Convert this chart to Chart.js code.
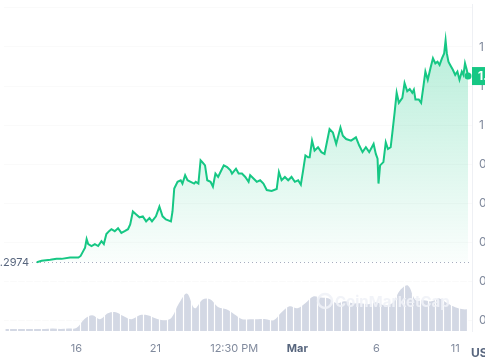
<!DOCTYPE html>
<html><head><meta charset="utf-8">
<script src="https://cdn.jsdelivr.net/npm/chart.js@4.4.1/dist/chart.umd.min.js"></script>
<style>
html,body{margin:0;padding:0;overflow:hidden;background:#fff;width:485px;height:360px}
#wrap{position:absolute;left:0;top:0;width:520px;height:360px}
</style>
</head><body>
<div id="wrap"><canvas id="c" width="520" height="360"></canvas></div>
<script>
// x values: day of month counted from Feb 1 (Mar 1 = day 30, 2024 leap year)
const priceDays = [
13.49,13.80,14.35,14.74,15.06,15.60,16.13,16.27,16.55,16.65,
16.75,16.96,17.17,17.38,17.59,17.74,17.90,18.07,18.22,18.43,
18.64,18.85,19.06,19.27,19.41,19.58,19.79,20.00,20.21,20.42,
20.63,20.79,21.04,21.26,21.46,21.67,21.99,22.09,22.20,22.41,
22.61,22.72,22.89,23.04,23.24,23.46,23.56,23.73,23.87,23.98,
24.15,24.29,24.50,24.65,24.81,24.98,25.13,25.34,25.55,25.76,
25.86,26.11,26.28,26.49,26.70,26.91,27.01,27.22,27.43,27.64,
27.85,28.06,28.37,28.69,28.83,29.00,29.21,29.42,29.63,29.84,
30.05,30.22,30.37,30.51,30.68,30.78,30.93,31.09,31.31,31.52,
31.72,32.04,32.25,32.46,32.73,32.88,33.09,33.40,33.71,33.92,
34.13,34.34,34.55,34.83,34.97,35.08,35.14,35.24,35.45,35.60,
35.74,35.91,36.02,36.16,36.29,36.43,36.65,36.79,36.96,37.12,
37.28,37.38,37.48,37.69,37.84,38.00,38.11,38.26,38.43,38.59,
38.74,38.88,39.01,39.16,39.30,39.39,39.47,39.57,39.68,39.85,
40.00,40.14,40.27,40.42,40.52,40.62,40.73,40.81
];
const prices = [
0.297,0.304,0.309,0.315,0.314,0.321,0.321,0.329,0.371,0.415,
0.390,0.380,0.390,0.380,0.405,0.390,0.441,0.456,0.466,0.456,
0.471,0.447,0.456,0.466,0.491,0.557,0.542,0.527,0.532,0.506,
0.523,0.506,0.532,0.582,0.532,0.516,0.506,0.557,0.675,0.709,
0.717,0.700,0.743,0.717,0.709,0.700,0.709,0.700,0.819,0.810,
0.793,0.717,0.709,0.684,0.751,0.734,0.759,0.793,0.785,0.768,
0.751,0.776,0.751,0.751,0.734,0.709,0.743,0.726,0.709,0.717,
0.700,0.667,0.662,0.672,0.759,0.717,0.734,0.717,0.734,0.709,
0.717,0.694,0.770,0.844,0.835,0.835,0.920,0.869,0.886,0.861,
0.852,0.979,0.962,0.903,0.987,0.945,0.928,0.920,0.937,0.895,
0.861,0.886,0.861,0.903,0.852,0.827,0.700,0.793,0.810,0.911,
0.877,0.886,0.962,1.063,1.165,1.114,1.139,1.215,1.173,1.185,
1.165,1.181,1.131,1.131,1.114,1.207,1.274,1.232,1.291,1.342,
1.316,1.325,1.308,1.342,1.367,1.434,1.367,1.325,1.308,1.283,
1.257,1.274,1.232,1.274,1.257,1.316,1.283,1.251
];
const volumeDays = [
11.5,12,12.5,13,13.5,14,14.5,15,15.5,16,
16.5,17,17.5,18,18.5,19,19.5,20,20.5,21,
21.5,22,22.5,23,23.5,24,24.5,25,25.5,26,
26.5,27,27.5,28,28.5,29,29.5,30,30.5,31,
31.5,32,32.5,33,33.5,34,34.5,35,35.5,36,
36.5,37,37.5,38,38.5,39,39.5,40,40.5,40.81
];
const volumes = [
4,4,4,4,4,4,5,4,5,6,
24,32,24,36,38,30,24,32,32,26,
22,26,56,76,46,64,64,48,44,34,
24,24,24,24,22,38,50,46,56,70,
68,66,56,60,56,56,54,58,52,56,
82,92,62,62,60,66,56,48,44,44
];
const tickDays = [16,21,26,30,35,40];
const tickLabels = ['16','21','12:30 PM','Mar','6','11'];
const priceTicks = [0,0.2,0.4,0.6,0.8,1.0,1.2,1.4,1.6];
const openPrice = 0.2974;
const openLabel = '0.2974';
const currency = 'USD';

const GREEN = '#16c784';
const FONT = 'Inter, "DejaVu Sans", sans-serif';

const overlay = {
  id: 'overlay',
  beforeDatasetsDraw(chart) {
    const {ctx, chartArea: ca, scales: {y}} = chart;
    const py = Math.round(y.getPixelForValue(openPrice)) + 0.5;
    ctx.save();
    ctx.strokeStyle = '#a6adbf';
    ctx.lineWidth = 1;
    ctx.setLineDash([1, 3]);
    ctx.beginPath();
    ctx.moveTo(32, py);
    ctx.lineTo(ca.right, py);
    ctx.stroke();
    ctx.restore();
  },
  afterDatasetsDraw(chart) {
    const {ctx, chartArea: ca, scales: {x, yv}} = chart;
    ctx.save();
    // white separators between volume bars
    ctx.strokeStyle = '#ffffff';
    ctx.lineWidth = 1.2;
    const top = yv.getPixelForValue(110);
    for (let i = 0; i < volumeDays.length - 1; i++) {
      const px = Math.round(x.getPixelForValue(volumeDays[i] + 0.25)) + 0.5;
      ctx.beginPath();
      ctx.moveTo(px, top);
      ctx.lineTo(px, ca.bottom);
      ctx.stroke();
    }
    // watermark
    ctx.strokeStyle = 'rgba(240,242,247,0.9)';
    ctx.fillStyle = 'rgba(240,242,247,0.9)';
    ctx.lineWidth = 2.5;
    ctx.beginPath();
    ctx.arc(325, 301, 7, 0, Math.PI * 2);
    ctx.stroke();
    ctx.font = 'bold 15px ' + FONT;
    ctx.textBaseline = 'middle';
    ctx.fillText('CoinMarketCap', 335, 302);
    ctx.restore();
  },
  afterDraw(chart) {
    const {ctx, chartArea: ca, scales: {y}} = chart;
    ctx.save();
    const py = y.getPixelForValue(openPrice);
    ctx.font = '11px ' + FONT;
    ctx.fillStyle = '#58667e';
    ctx.textAlign = 'right';
    ctx.textBaseline = 'middle';
    ctx.fillText(openLabel, 29, py + 1);
    const last = prices[prices.length - 1];
    const ly = y.getPixelForValue(last);
    ctx.fillStyle = GREEN;
    ctx.fillRect(ca.right, ly - 9, 60, 18);
    ctx.fillStyle = '#fff';
    ctx.font = 'bold 12px ' + FONT;
    ctx.textAlign = 'left';
    ctx.fillText(last.toFixed(2), ca.right + 6, ly + 0.5);
    ctx.fillStyle = '#58667e';
    ctx.font = 'bold 12px ' + FONT;
    ctx.fillText(currency, 471, 353);
    ctx.restore();
  }
};

new Chart(document.getElementById('c'), {
  type: 'line',
  data: {
    datasets: [
      {
        order: 1,
        data: priceDays.map((d, i) => ({x: d, y: prices[i]})),
        yAxisID: 'y',
        borderColor: GREEN,
        borderWidth: 2,
        tension: 0,
        pointRadius: (c) => c.dataIndex === prices.length - 1 ? 3.5 : 0,
        pointBackgroundColor: GREEN,
        pointBorderWidth: 0,
        fill: {value: openPrice},
        backgroundColor: (c) => {
          const chart = c.chart;
          if (!chart.chartArea) return 'rgba(22,199,132,0.15)';
          const ys = chart.scales.y;
          const g = chart.ctx.createLinearGradient(0, ys.getPixelForValue(1.43), 0, ys.getPixelForValue(openPrice));
          g.addColorStop(0, 'rgba(22,199,132,0.30)');
          g.addColorStop(1, 'rgba(22,199,132,0.02)');
          return g;
        }
      },
      {
        order: 2,
        data: volumeDays.map((d, i) => ({x: d, y: volumes[i]})),
        yAxisID: 'yv',
        borderWidth: 0,
        borderColor: 'rgba(0,0,0,0)',
        backgroundColor: '#d3d8e4',
        pointRadius: 0,
        tension: 0.35,
        fill: 'origin'
      }
    ]
  },
  options: {
    responsive: false,
    animation: false,
    layout: {padding: 0},
    plugins: {legend: {display: false}, tooltip: {enabled: false}},
    scales: {
      x: {
        type: 'linear',
        min: 11.415,
        max: 41.063,
        offset: false,
        grid: {display: false},
        border: {display: false},
        afterBuildTicks: (s) => { s.ticks = tickDays.map(v => ({value: v})); },
        afterFit: (s) => { s.height = 29; s.paddingLeft = 0; s.paddingRight = 0; },
        ticks: {
          autoSkip: false,
          maxRotation: 0,
          padding: 3,
          color: (c) => c.tick && c.tick.value === 30 ? '#58667e' : '#808a9d',
          font: (c) => ({family: FONT, size: 11, weight: c.tick && c.tick.value === 30 ? 'bold' : 'normal'}),
          callback: (v) => tickLabels[tickDays.indexOf(v)]
        }
      },
      y: {
        type: 'linear',
        position: 'right',
        min: -0.0557,
        max: 1.6203,
        afterBuildTicks: (s) => { s.ticks = priceTicks.map(v => ({value: v})); },
        afterFit: (s) => { s.width = 48; s.paddingTop = 0; s.paddingBottom = 0; },
        grid: {color: 'rgba(0,0,0,0.02)', drawTicks: false},
        border: {display: true, color: '#eef0f4'},
        ticks: {
          padding: 7,
          color: '#808a9d',
          font: {family: FONT, size: 12},
          callback: (v) => v >= 1.6 ? '' : Number(v).toFixed(2)
        }
      },
      yv: {
        type: 'linear',
        display: false,
        min: 0,
        max: 662
      }
    }
  },
  plugins: [overlay]
});
</script>
</body></html>
